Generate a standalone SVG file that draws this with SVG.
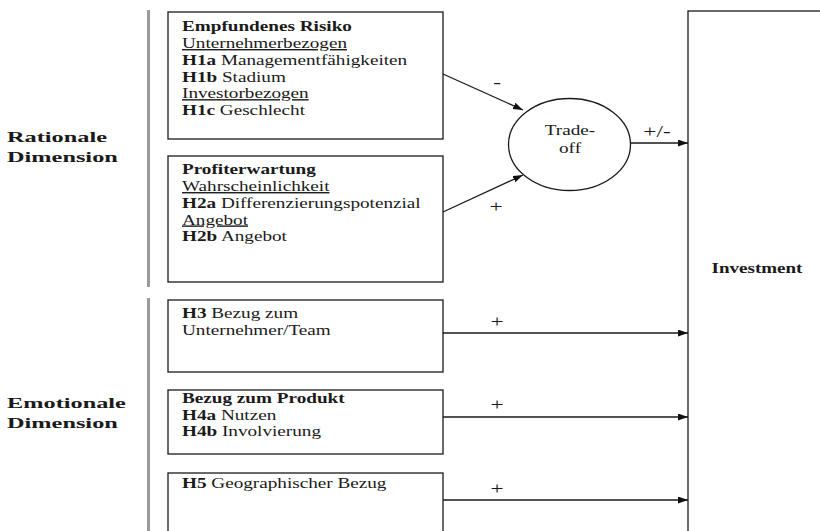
<svg xmlns="http://www.w3.org/2000/svg" width="820" height="531" viewBox="0 0 820 531">
<defs>
<marker id="ah" markerUnits="userSpaceOnUse" markerWidth="11" markerHeight="8" refX="10" refY="3.5" orient="auto"><path d="M0,0 L10,3.5 L0,7 z" fill="#111"/></marker>
<style>
.box{fill:#fff;stroke:#1a1a1a;stroke-width:1.3}
.bar{fill:#9a9a9a}
.t{font-family:"Liberation Serif","Times New Roman",serif;font-size:14px;fill:#1a1a1a}
.b{font-weight:bold}
.u{text-decoration:underline}
.sg{font-size:17px}
.lab{font-family:"Liberation Serif","Times New Roman",serif;font-size:15.5px;font-weight:bold;fill:#1a1a1a}
.c{text-anchor:middle}
.ln{stroke:#1a1a1a;stroke-width:1.3;fill:none;marker-end:url(#ah)}
</style>
</defs>
<rect width="820" height="531" fill="#fff"/>
<rect class="bar" x="147" y="10" width="3" height="277"/>
<rect class="bar" x="147" y="298" width="3" height="233"/>
<g id="label-rational" transform="translate(7,0) scale(1.57 1)">
<text class="lab" x="0" y="142.5">Rationale</text>
<text class="lab" x="0" y="162.5">Dimension</text>
</g>
<g id="label-emotional" transform="translate(7,0) scale(1.57 1)">
<text class="lab" x="0" y="408.5">Emotionale</text>
<text class="lab" x="0" y="428.5">Dimension</text>
</g>
<g id="risk">
<rect class="box" x="168" y="12" width="275" height="127"/>
<g class="t" transform="translate(182,0) scale(1.37 1)">
<text x="0" y="31.5" class="b">Empfundenes Risiko</text>
<text x="0" y="48.2" class="u">Unternehmerbezogen</text>
<text x="0" y="64.9"><tspan class="b">H1a</tspan> Managementfähigkeiten</text>
<text x="0" y="81.6"><tspan class="b">H1b</tspan> Stadium</text>
<text x="0" y="98.3" class="u">Investorbezogen</text>
<text x="0" y="115"><tspan class="b">H1c</tspan> Geschlecht</text>
</g>
</g>
<g id="profit">
<rect class="box" x="168" y="156" width="275" height="126"/>
<g class="t" transform="translate(182,0) scale(1.37 1)">
<text x="0" y="174.5" class="b">Profiterwartung</text>
<text x="0" y="191.2" class="u">Wahrscheinlichkeit</text>
<text x="0" y="207.9"><tspan class="b">H2a</tspan> Differenzierungspotenzial</text>
<text x="0" y="224.6" class="u">Angebot</text>
<text x="0" y="241.3"><tspan class="b">H2b</tspan> Angebot</text>
</g>
</g>
<g id="h3">
<rect class="box" x="168" y="300" width="275" height="72"/>
<g class="t" transform="translate(182,0) scale(1.37 1)">
<text x="0" y="318.5"><tspan class="b">H3</tspan> Bezug zum</text>
<text x="0" y="335.2">Unternehmer/Team</text>
</g>
</g>
<g id="produkt">
<rect class="box" x="168" y="390" width="275" height="64"/>
<g class="t" transform="translate(182,0) scale(1.37 1)">
<text x="0" y="403.5" class="b">Bezug zum Produkt</text>
<text x="0" y="420"><tspan class="b">H4a</tspan> Nutzen</text>
<text x="0" y="436.5"><tspan class="b">H4b</tspan> Involvierung</text>
</g>
</g>
<g id="h5">
<rect class="box" x="168" y="473" width="275" height="80"/>
<g class="t" transform="translate(182,0) scale(1.37 1)">
<text x="0" y="488"><tspan class="b">H5</tspan> Geographischer Bezug</text>
</g>
</g>
<g id="tradeoff">
<ellipse class="box" cx="569.5" cy="144.5" rx="61" ry="46"/>
<g class="t c">
<text transform="translate(570,135) scale(1.37 1)">Trade-</text>
<text transform="translate(570,152.5) scale(1.37 1)">off</text>
</g>
</g>
<g id="investment">
<rect class="box" x="688" y="11" width="150" height="540"/>
<text class="t b c" style="font-size:13.6px" transform="translate(757,273) scale(1.4 1)">Investment</text>
</g>
<g id="connectors">
<line class="ln" x1="443" y1="74" x2="523" y2="110"/>
<line class="ln" x1="443" y1="212" x2="523" y2="175"/>
<line class="ln" x1="631" y1="143" x2="688" y2="143"/>
<line class="ln" x1="443" y1="333" x2="688" y2="333"/>
<line class="ln" x1="443" y1="417" x2="688" y2="417"/>
<line class="ln" x1="443" y1="500" x2="688" y2="500"/>
<g class="t sg c">
<text transform="translate(497,88) scale(1.37 1)">-</text>
<text transform="translate(496,212) scale(1.37 1)">+</text>
<text transform="translate(657,137) scale(1.37 1)">+/-</text>
<text transform="translate(497,327) scale(1.37 1)">+</text>
<text transform="translate(497,410) scale(1.37 1)">+</text>
<text transform="translate(497,494) scale(1.37 1)">+</text>
</g>
</g>
</svg>
